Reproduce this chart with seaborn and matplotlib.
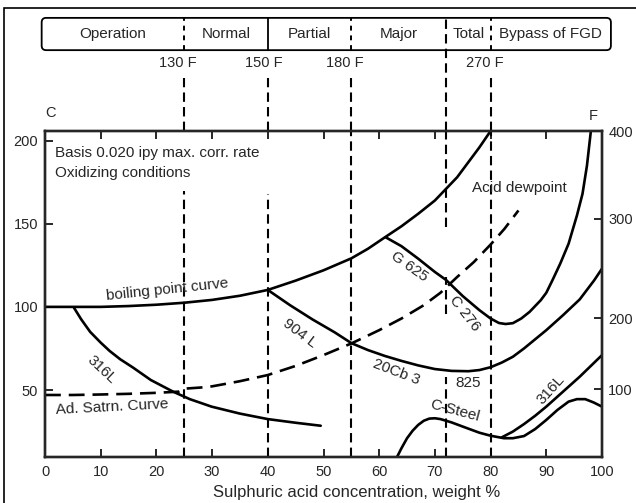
import matplotlib
matplotlib.use("Agg")
import matplotlib.pyplot as plt
from matplotlib.patches import FancyBboxPatch, Rectangle
import seaborn as sns
import pandas as pd

# ---------------- data ----------------
# boiling point curve
boil_x = [0, 5, 10, 15, 20, 25, 30, 35, 40, 45, 50, 55, 58, 61, 64, 67, 70, 72, 74, 76, 78, 80]
boil_c = [100, 100, 100, 100.5, 101.3, 102.5, 104.2, 106.7, 110.2, 115.8, 122, 129.2, 135, 141.8,
          148.5, 156, 164, 171, 178, 187, 196, 205.8]
# 316L (left branch)
l316_x = [5.2, 6.5, 8.1, 10, 11.6, 13.5, 15.8, 19, 23, 26, 29.9, 35, 40, 45, 49.5]
l316_c = [99.5, 92.5, 85, 78.5, 73.5, 68.5, 63.5, 56, 49, 44.5, 40, 35.8, 32.5, 30.3, 28.5]
# Ad. Satrn. curve / acid dewpoint (dashed)
dew_x = [0, 5, 10, 15, 20, 24, 25, 28, 30, 35, 40, 45, 50, 55, 60, 64, 68, 71, 74, 77, 80, 82.5, 85]
dew_c = [47, 47, 47.3, 47.7, 48.3, 49, 50.8, 51.5, 52.2, 55.3, 59, 64.5, 71, 78, 86, 93, 101,
         108.5, 118, 127, 137.5, 147, 158]
# 904L / 20Cb3 / 825
cb_x = [40, 44, 48, 52, 55, 58, 61, 64, 67, 70, 73, 76, 78, 80, 82, 84, 86, 88, 90, 93, 96, 98.6, 100]
cb_c = [110.2, 101, 92.5, 84.7, 78.2, 74, 70.5, 67.5, 64.8, 62.6, 61.5, 61.3, 62, 63.7, 66.5, 70,
        75, 80.5, 86, 95, 104.5, 116, 123]
# G625 / C276
g_x = [61.2, 64, 67, 70, 72, 75, 78, 80, 81.5, 82.7, 84, 85.5, 87, 89, 90, 91.1, 92.5, 94, 95.5,
       96.5, 97.3, 98]
g_c = [141.8, 136.5, 129, 121, 116.2, 106.5, 98, 93, 90.3, 89.7, 90.2, 93, 97, 104, 108.5, 116, 126,
       138, 155, 168, 185, 205.8]
# C-Steel
cs_x = [63.2, 64, 65, 66, 67, 68, 69, 70, 71, 73, 75, 78, 80, 82.4, 84, 86, 88, 90, 92, 94, 95.5,
        97, 98.5, 100]
cs_c = [9.7, 15, 21, 25.5, 29, 31.5, 32.8, 33, 32.5, 30.5, 28, 24.3, 22.5, 21, 21, 22.3, 26.5, 32,
        38, 43, 44.5, 44.5, 42.5, 40]
# 316L (right branch)
r316_x = [82, 84, 86, 88, 90, 92, 94, 96, 98, 100]
r316_c = [21.5, 25, 29.5, 34.5, 40, 46, 52, 58, 64.5, 71]

# zone boundaries (acid concentration, %)
zone_x = [25, 40, 55, 72, 80]
zone_temp_labels = ["130 F", "150 F", "180 F", "270 F"]
zone_names = ["Operation", "Normal", "Partial", "Major", "Total", "Bypass of FGD"]

x_ticks = [0, 10, 20, 30, 40, 50, 60, 70, 80, 90, 100]
c_ticks = [50, 100, 150, 200]
f_ticks = ["100", "200", "300", "400"]
# Celsius position at which the (hand-drawn) Fahrenheit ticks sit
f_tick_c = [50.6, 93.3, 152.9, 205.8]

# ---------------- style ----------------
sns.set_style("ticks")
plt.rcParams["font.family"] = ["Liberation Sans", "DejaVu Sans"]
plt.rcParams["axes.linewidth"] = 1.7

fig = plt.figure(figsize=(6.36, 5.03), dpi=100)
fig.patch.set_facecolor("white")
ax = fig.add_axes([45 / 636, 46 / 503, 557 / 636, 326 / 503])
ax.set_xlim(0, 100)
ax.set_ylim(9.7, 205.8)

LW = 1.9
solid = dict(color="black", linewidth=LW, ax=ax, legend=False)
sns.lineplot(data=pd.DataFrame({"x": boil_x, "c": boil_c}), x="x", y="c", **solid)
sns.lineplot(data=pd.DataFrame({"x": l316_x, "c": l316_c}), x="x", y="c", **solid)
sns.lineplot(data=pd.DataFrame({"x": cb_x, "c": cb_c}), x="x", y="c", **solid)
sns.lineplot(data=pd.DataFrame({"x": g_x, "c": g_c}), x="x", y="c", **solid)
sns.lineplot(data=pd.DataFrame({"x": cs_x, "c": cs_c}), x="x", y="c", **solid)
sns.lineplot(data=pd.DataFrame({"x": r316_x, "c": r316_c}), x="x", y="c", **solid)
dl = sns.lineplot(data=pd.DataFrame({"x": dew_x, "c": dew_c}), x="x", y="c",
                  color="black", linewidth=1.9, ax=ax, legend=False)
dl.lines[-1].set_dashes((6, 3))

# vertical zone lines inside the plot
vdash = (0, (4.5, 2.5))
lo, hi = ax.get_ylim()
ax.vlines(25, lo, 170, colors="black", linewidth=1.5, linestyles=[vdash])
ax.vlines(40, lo, 168, colors="black", linewidth=1.5, linestyles=[vdash])
ax.vlines(55, lo, hi, colors="black", linewidth=1.5, linestyles=[vdash])
for a, b in [(lo, 57.6), (96, 118), (148, hi)]:
    ax.vlines(72, a, b, colors="black", linewidth=1.5, linestyles=[vdash])
ax.vlines(80, lo, hi, colors="black", linewidth=1.5, linestyles=[vdash])

# lines above the plot (blended transform: x data, y axes fraction)
tr = ax.get_xaxis_transform()
for xv in [25, 40, 55, 80]:
    ax.vlines(xv, 1.0, 1.163, colors="black", linewidth=1.5, linestyles=[vdash],
              transform=tr, clip_on=False)
ax.vlines(72, 1.0, 1.347, colors="black", linewidth=1.5, linestyles=[vdash],
          transform=tr, clip_on=False)

# operation bar
bar_y0, bar_y1 = 1.248, 1.347
box = FancyBboxPatch((-0.6, bar_y0), 102.2, bar_y1 - bar_y0,
                     boxstyle="round,pad=0,rounding_size=0.8", mutation_aspect=0.0172,
                     transform=tr, clip_on=False, fill=False, edgecolor="black", linewidth=1.3)
ax.add_patch(box)
for xv in [25, 55, 80]:
    ax.vlines(xv, bar_y0, bar_y1, colors="black", linewidth=1.4, linestyles=[(0, (2.5, 2.5))],
              transform=tr, clip_on=False)
ax.vlines(40, bar_y0, bar_y1, colors="black", linewidth=1.3, transform=tr, clip_on=False)

bounds = [-0.6] + zone_x + [101.6]
for i, name in enumerate(zone_names):
    ax.text((bounds[i] + bounds[i + 1]) / 2, 1.298, name, transform=tr, ha="center",
            va="center", fontsize=11)
for xv, lab in zip([23.8, 39.2, 53.8, 78.9], zone_temp_labels):
    ax.text(xv, 1.208, lab, transform=tr, ha="center", va="center", fontsize=10.5)

ax.text(0.9, 1.054, "C", transform=tr, ha="center", va="center", fontsize=10.5)
ax.text(98.4, 1.045, "F", transform=tr, ha="center", va="center", fontsize=10.5)

# annotations
fs = 11
ax.text(1.8, 192.4, "Basis 0.020 ipy max. corr. rate", ha="left", va="center", fontsize=fs)
ax.text(1.8, 180.4, "Oxidizing conditions", ha="left", va="center", fontsize=fs)
ax.text(22, 110.2, "boiling point curve", ha="center", va="center", fontsize=fs, rotation=6)
ax.text(10.2, 62, "316L", ha="center", va="center", fontsize=fs, rotation=-43)
ax.text(1.8, 40, "Ad. Satrn. Curve", ha="left", va="center", fontsize=fs, rotation=3)
ax.text(45.8, 84, "904 L", ha="center", va="center", fontsize=fs, rotation=-37)
ax.text(63, 60.5, "20Cb 3", ha="center", va="center", fontsize=fs, rotation=-21)
ax.text(75.9, 54, "825", ha="center", va="center", fontsize=fs)
ax.text(73.5, 37.5, "C-Steel", ha="center", va="center", fontsize=fs, rotation=-15)
ax.text(90.8, 50, "316L", ha="center", va="center", fontsize=fs, rotation=48)
ax.text(65.4, 124.2, "G 625", ha="center", va="center", fontsize=fs, rotation=-35)
ax.text(75.3, 96.1, "C 276", ha="center", va="center", fontsize=fs, rotation=-52)
ax.text(85.1, 171.5, "Acid dewpoint", ha="center", va="center", fontsize=fs)

# axes / ticks
ax.set_xticks(x_ticks)
ax.set_yticks(c_ticks)
ax.tick_params(axis="x", direction="in", length=6, width=1.4, top=True, labelsize=10.5, pad=6)
ax.tick_params(axis="y", direction="in", length=6, width=1.4, labelsize=10.5, pad=5)
ax.set_ylabel("")
ax.set_xlabel("Sulphuric acid concentration, weight %", fontsize=12, labelpad=4, x=0.56)

ax2 = ax.twinx()
ax2.set_ylim(ax.get_ylim())
ax2.set_yticks(f_tick_c)
ax2.set_yticklabels(f_ticks)
ax2.tick_params(axis="y", direction="in", length=6, width=1.4, labelsize=10.5, pad=4.5)
ax2.set_ylabel("")
for sp in ax2.spines.values():
    sp.set_linewidth(1.7)

# outer frame
fig.patches.append(Rectangle((4 / 636, -0.05), 1.2, 1 - 8 / 503 + 0.05, transform=fig.transFigure,
                             fill=False, edgecolor="black", linewidth=1.2))

fig.savefig("out.png", dpi=100, facecolor="white")
